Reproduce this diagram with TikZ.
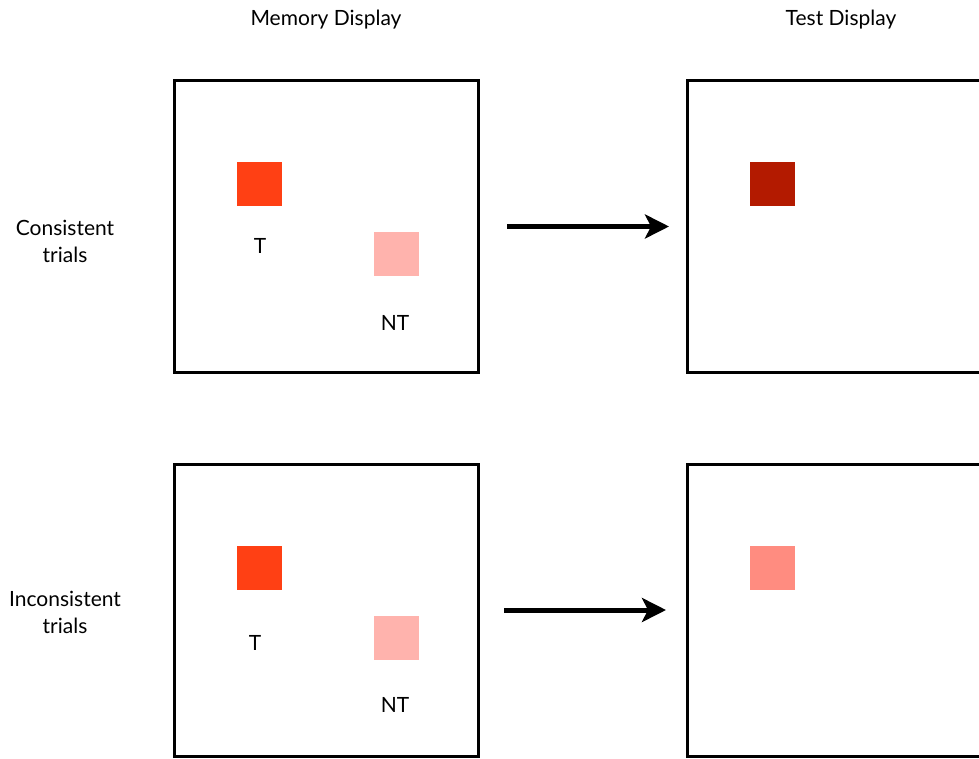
\documentclass[tikz,border=0pt]{standalone}
\usepackage{fontspec}
\setmainfont{Lato}
\usetikzlibrary{arrows.meta}

\definecolor{tcol}{RGB}{255,64,20}
\definecolor{ntcol}{RGB}{255,179,173}
\definecolor{testA}{RGB}{179,26,0}
\definecolor{testB}{RGB}{255,140,128}

\begin{document}
\begin{tikzpicture}[x=1pt,y=-1pt,>={Stealth[length=24pt,width=24pt,inset=6pt]},
    every node/.style={font=\fontsize{21}{27}\selectfont},
    panel/.style={draw,line width=3pt,minimum width=304pt,minimum height=292pt,inner sep=0pt},
    stim/.style={minimum width=45pt,minimum height=44pt,inner sep=0pt},
    cue/.style={line width=5pt,->}]
  \def\ya{226.5};
  \def\yb{610};
  \clip (0,0) rectangle (979,759); % 右端は切れている

  \node (hmem) at (326,20) {Memory Display}; % 見出し
  \node (htest) at (841,20) {Test Display};

  % 上の段
  \node[align=center] (lab-1) at (65,241) {Consistent\\trials};
  \node[panel] (mem-1) at (326.5,\ya) {};
  \node[panel] (test-1) at (839.5,\ya) {};
  \node[stim,fill=tcol] (t-1) at (259.5,184) {};
  \node[stim,fill=ntcol] (nt-1) at (396.5,254) {};
  \node (tl-1) at (260,246) {T};
  \node (ntl-1) at (395,323) {NT};
  \node[stim,fill=testA] (s-1) at (772.5,184) {};
  \draw[cue,shorten <=27pt,shorten >=17pt] (mem-1) -- (test-1);

  % 下の段
  \node[align=center] (lab-2) at (65,612) {Inconsistent\\trials};
  \node[panel] (mem-2) at (326.5,\yb) {};
  \node[panel] (test-2) at (839.5,\yb) {};
  \node[stim,fill=tcol] (t-2) at (259.5,568) {};
  \node[stim,fill=ntcol] (nt-2) at (396.5,638) {};
  \node (tl-2) at (255,643) {T};
  \node (ntl-2) at (395,705) {NT};
  \node[stim,fill=testB] (s-2) at (772.5,568) {};
  \draw[cue,shorten <=24pt,shorten >=20pt] (mem-2) -- (test-2);
\end{tikzpicture}
\end{document}
